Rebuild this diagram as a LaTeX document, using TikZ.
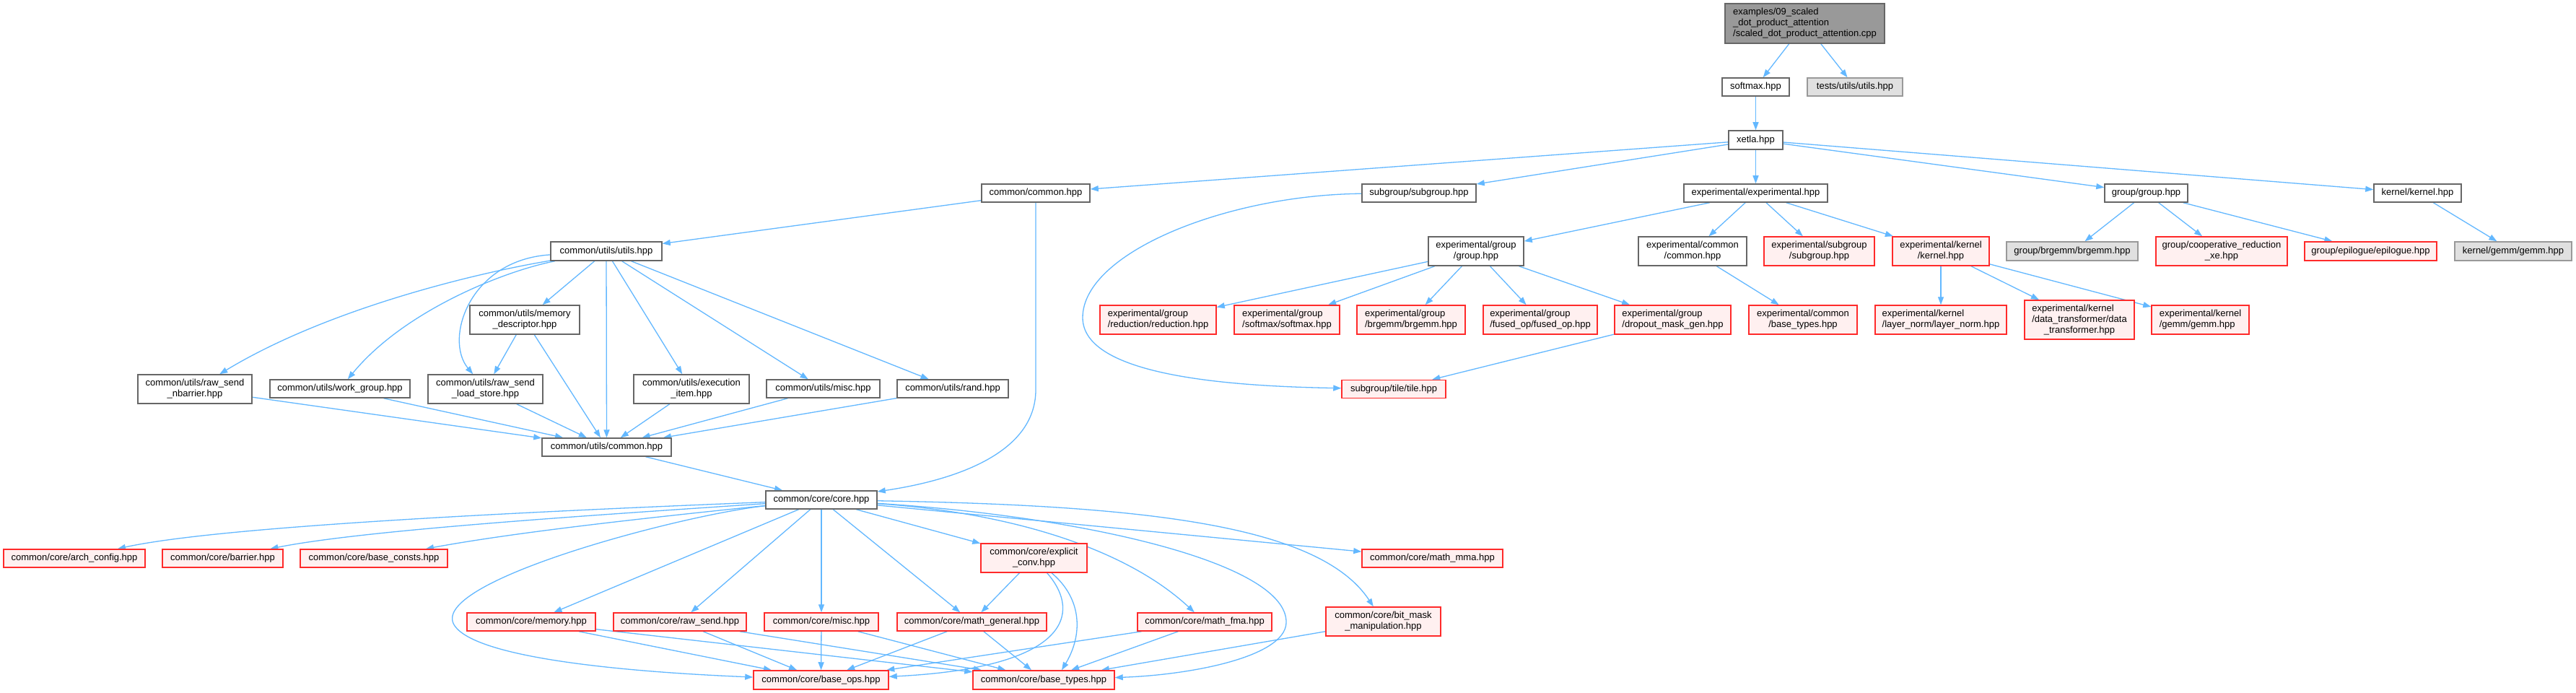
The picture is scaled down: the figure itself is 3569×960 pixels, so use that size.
\documentclass[tikz,border=0pt]{standalone}
\usepackage{fontspec}
\setmainfont{Liberation Sans}
\usetikzlibrary{arrows.meta,backgrounds}
\definecolor{edgec}{HTML}{63B8FF}
\definecolor{bdgray}{HTML}{666666}
\definecolor{bdred}{HTML}{FF2A2A}
\definecolor{fillred}{HTML}{FFF0F0}
\definecolor{bdlight}{HTML}{999999}
\definecolor{filllight}{HTML}{E0E0E0}
\definecolor{filltop}{HTML}{999999}
\begin{document}
\begin{tikzpicture}[x=1pt,y=-1pt,
  box/.style={rectangle, inner sep=0pt, line width=1.5pt, font=\fontsize{13}{15}\selectfont, align=center},
  wn/.style={box, draw=bdgray, fill=white},
  rn/.style={box, draw=bdred, fill=fillred},
  gn/.style={box, draw=bdlight, fill=filllight},
  tn/.style={box, draw=bdgray, fill=filltop},
  sz/.style 2 args={minimum width=#1pt, minimum height=#2pt},
  edge/.style={draw=edgec, line width=1.3pt, -{Triangle[length=11pt,width=8pt]}}]
\useasboundingbox (0,0) rectangle (3569,960);

% top part
\node[tn,sz={221}{55},align=left] (top) at (2500.5,32.5) {examples/09\_scaled\\\_dot\_product\_attention\\/scaled\_dot\_product\_attention.cpp};
\node[wn,sz={93}{25}] (softmax) at (2432.5,120.5) {softmax.hpp};
\node[gn,sz={132}{25}] (tests) at (2570,120.5) {tests/utils/utils.hpp};
\node[wn,sz={75}{26}] (xetla) at (2432.5,194) {xetla.hpp};
\node[wn,sz={158}{25}] (subgroup) at (1966,267.5) {subgroup/subgroup.hpp};
\node[wn,sz={199}{25}] (experimental) at (2432.5,267.5) {experimental/experimental.hpp};
\node[wn,sz={115}{25}] (ggroup) at (2973.5,267.5) {group/group.hpp};
\node[wn,sz={121}{25}] (kkernel) at (3349.5,267.5) {kernel/kernel.hpp};
\node[wn,sz={150}{25}] (ccommon) at (1435,267.5) {common/common.hpp};
\node[wn,sz={132}{40}] (egroup) at (2045,348) {experimental/group\\/group.hpp};
\node[wn,sz={150}{40}] (ecommon) at (2345,348) {experimental/common\\/common.hpp};
\node[rn,sz={153}{40}] (esubgroup) at (2520.5,348) {experimental/subgroup\\/subgroup.hpp};
\node[rn,sz={134}{40}] (ekernel) at (2689,348) {experimental/kernel\\/kernel.hpp};
\node[gn,sz={182}{26}] (gbrgemm) at (2871,348) {group/brgemm/brgemm.hpp};
\node[rn,sz={182}{40}] (coop) at (3078,348) {group/cooperative\_reduction\\\_xe.hpp};
\node[rn,sz={183}{26}] (epilogue) at (3284.5,348) {group/epilogue/epilogue.hpp};
\node[gn,sz={162}{26}] (kgemm) at (3482,348) {kernel/gemm/gemm.hpp};
\node[rn,sz={161}{40},align=left] (reduction) at (1604.5,443) {experimental/group\\/reduction/reduction.hpp};
\node[rn,sz={146}{40},align=left] (esoftmax) at (1783,443) {experimental/group\\/softmax/softmax.hpp};
\node[rn,sz={150}{40},align=left] (ebrgemm) at (1955,443) {experimental/group\\/brgemm/brgemm.hpp};
\node[rn,sz={158}{40},align=left] (fused) at (2134,443) {experimental/group\\/fused\_op/fused\_op.hpp};
\node[rn,sz={161}{40},align=left] (dropout) at (2317.5,443) {experimental/group\\/dropout\_mask\_gen.hpp};
\node[rn,sz={150}{40}] (ebase) at (2498,443) {experimental/common\\/base\_types.hpp};
\node[rn,sz={182}{40},align=left] (layer) at (2689,443) {experimental/kernel\\/layer\_norm/layer\_norm.hpp};
\node[rn,sz={152}{54}] (datat) at (2881,443) {\begin{tabular}{@{}l@{}}experimental/kernel\\/data\_transformer/data\\\multicolumn{1}{@{}c@{}}{\_transformer.hpp}\end{tabular}};
\node[rn,sz={135}{40},align=left] (egemm) at (3048.5,443) {experimental/kernel\\/gemm/gemm.hpp};
\node[rn,sz={144}{25}] (tile) at (1931,539) {subgroup/tile/tile.hpp};

% utils part
\node[wn,sz={154}{26}] (uutils) at (840,348) {common/utils/utils.hpp};
\node[wn,sz={152}{40}] (memdesc) at (727,443) {common/utils/memory\\\_descriptor.hpp};
\node[wn,sz={158}{40}] (nbarrier) at (270,539) {common/utils/raw\_send\\\_nbarrier.hpp};
\node[wn,sz={194}{25}] (workgroup) at (471,538.5) {common/utils/work\_group.hpp};
\node[wn,sz={159}{40}] (loadstore) at (672.5,539) {common/utils/raw\_send\\\_load\_store.hpp};
\node[wn,sz={160}{40}] (execitem) at (958,539) {common/utils/execution\\\_item.hpp};
\node[wn,sz={157}{25}] (umisc) at (1140.5,538.5) {common/utils/misc.hpp};
\node[wn,sz={154}{25}] (urand) at (1320,538.5) {common/utils/rand.hpp};
\node[wn,sz={179}{25}] (ucommon) at (840.5,619.5) {common/utils/common.hpp};

% core part
\node[wn,sz={154}{25}] (core) at (1138,692.5) {common/core/core.hpp};
\node[rn,sz={196}{25}] (arch) at (103,773.5) {common/core/arch\_config.hpp};
\node[rn,sz={167}{25}] (barrier) at (308.5,773.5) {common/core/barrier.hpp};
\node[rn,sz={204}{25}] (consts) at (518,773.5) {common/core/base\_consts.hpp};
\node[rn,sz={147}{40}] (explicit) at (1432.5,773) {common/core/explicit\\\_conv.hpp};
\node[rn,sz={195}{25}] (mma) at (1984.5,773.5) {common/core/math\_mma.hpp};
\node[rn,sz={178}{25}] (memory) at (736,861.5) {common/core/memory.hpp};
\node[rn,sz={184}{25}] (rawsend) at (942,861.5) {common/core/raw\_send.hpp};
\node[rn,sz={158}{25}] (cmisc) at (1138,861.5) {common/core/misc.hpp};
\node[rn,sz={207}{25}] (mgeneral) at (1346.5,861.5) {common/core/math\_general.hpp};
\node[rn,sz={186}{25}] (fma) at (1669,861.5) {common/core/math\_fma.hpp};
\node[rn,sz={159}{40}] (bitmask) at (1916.5,861) {common/core/bit\_mask\\\_manipulation.hpp};
\node[rn,sz={187}{26}] (baseops) at (1137.5,942) {common/core/base\_ops.hpp};
\node[rn,sz={196}{26}] (basetypes) at (1446,942) {common/core/base\_types.hpp};

\begin{pgfonlayer}{background}
\fill[white] (0,0) rectangle (3569,960);
% top
\draw[edge] (top) -- (softmax);
\draw[edge] (top) -- (tests);
\draw[edge] (softmax) -- (xetla);
\draw[edge] (xetla) -- (ccommon);
\draw[edge] (xetla) -- (subgroup);
\draw[edge] (xetla) -- (experimental);
\draw[edge] (xetla) -- (ggroup);
\draw[edge] (xetla) -- (kkernel);
\draw[edge] (ccommon) -- (uutils);
\draw[edge] (ccommon.south) -- (1435,540) .. controls (1435,640) and (1290,670) .. (core);
\draw[edge] (subgroup) .. controls (1700,270) and (1500,350) .. (1500,440) .. controls (1500,520) and (1700,535) .. (tile);
\draw[edge] (experimental) -- (egroup);
\draw[edge] (experimental) -- (ecommon);
\draw[edge] (experimental) -- (esubgroup);
\draw[edge] (experimental) -- (ekernel);
\draw[edge] (egroup) -- (reduction);
\draw[edge] (egroup) -- (esoftmax);
\draw[edge] (egroup) -- (ebrgemm);
\draw[edge] (egroup) -- (fused);
\draw[edge] (egroup) -- (dropout);
\draw[edge] (dropout) -- (tile);
\draw[edge] (ecommon) -- (ebase);
\draw[edge] (ekernel) -- (layer);
\draw[edge] (ekernel) -- (datat);
\draw[edge] (ekernel) -- (egemm);
\draw[edge] (ggroup) -- (gbrgemm);
\draw[edge] (ggroup) -- (coop);
\draw[edge] (ggroup) -- (epilogue);
\draw[edge] (kkernel) -- (kgemm);
% utils
\draw[edge] (uutils) .. controls (650,380) and (450,430) .. (nbarrier);
\draw[edge] (uutils) .. controls (700,375) and (560,430) .. (workgroup);
\draw[edge] (uutils) .. controls (650,360) and (615,470) .. (loadstore);
\draw[edge] (uutils) -- (memdesc);
\draw[edge] (uutils) -- (ucommon);
\draw[edge] (uutils) -- (execitem);
\draw[edge] (uutils) -- (umisc);
\draw[edge] (uutils) -- (urand);
\draw[edge] (memdesc) -- (loadstore);
\draw[edge] (memdesc) -- (ucommon);
\draw[edge] (nbarrier) -- (ucommon);
\draw[edge] (workgroup) -- (ucommon);
\draw[edge] (loadstore) -- (ucommon);
\draw[edge] (execitem) -- (ucommon);
\draw[edge] (umisc) -- (ucommon);
\draw[edge] (urand) -- (ucommon);
\draw[edge] (ucommon) -- (core);
% core
\draw[edge] (core) .. controls (700,710) and (300,730) .. (arch);
\draw[edge] (core) .. controls (800,715) and (500,735) .. (barrier);
\draw[edge] (core) .. controls (850,722) and (700,740) .. (consts);
\draw[edge] (core) .. controls (945,713) and (588,807) .. (630,867) .. controls (660,910) and (850,930) .. (baseops);
\draw[edge] (core) -- (memory);
\draw[edge] (core) -- (rawsend);
\draw[edge] (core) -- (cmisc);
\draw[edge] (core) -- (mgeneral);
\draw[edge] (core) -- (explicit);
\draw[edge] (core) .. controls (1400,710) and (1560,760) .. (fma);
\draw[edge] (core) -- (mma);
\draw[edge] (core) .. controls (1600,700) and (1830,730) .. (bitmask);
\draw[edge] (core) .. controls (1500,715) and (1785,780) .. (1782,863) .. controls (1780,910) and (1650,935) .. (basetypes);
\draw[edge] (explicit) -- (mgeneral);
\draw[edge] (explicit) .. controls (1500,850) and (1480,925) .. (baseops);
\draw[edge] (explicit) .. controls (1500,830) and (1500,880) .. ([xshift=25pt]basetypes.north);
\draw[edge] (memory) -- (baseops);
\draw[edge] (memory) -- (basetypes);
\draw[edge] (rawsend) -- (baseops);
\draw[edge] (rawsend) -- (basetypes);
\draw[edge] (cmisc) -- (baseops);
\draw[edge] (cmisc) -- (basetypes);
\draw[edge] (mgeneral) -- (baseops);
\draw[edge] (mgeneral) -- (basetypes);
\draw[edge] (fma) -- (baseops);
\draw[edge] (fma) -- (basetypes);
\draw[edge] (bitmask) -- (basetypes);
\end{pgfonlayer}
\end{tikzpicture}
\end{document}
